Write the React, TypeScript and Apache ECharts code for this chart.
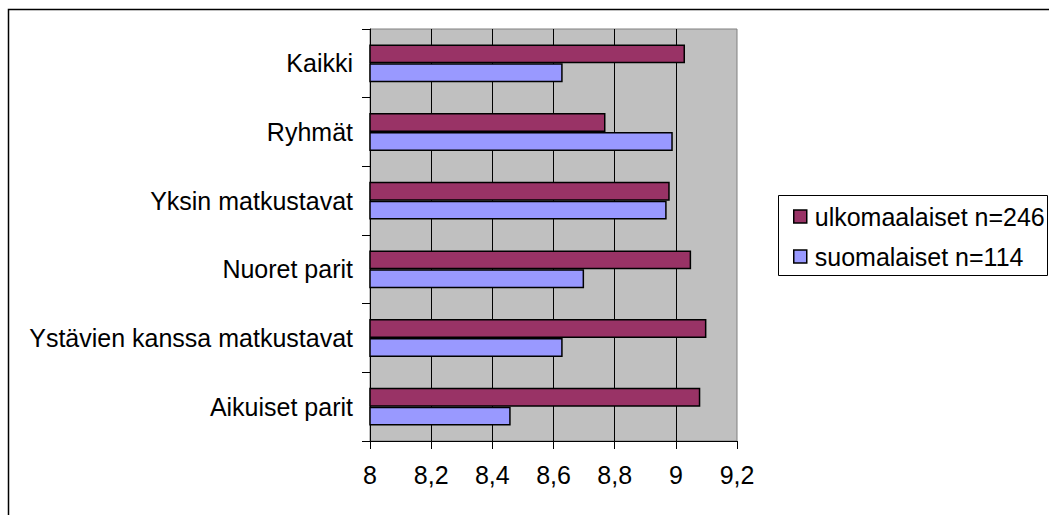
import React, { useEffect, useRef } from "react";
import * as echarts from "echarts";

const categories = [
  "Kaikki",
  "Ryhmät",
  "Yksin matkustavat",
  "Nuoret parit",
  "Ystävien kanssa matkustavat",
  "Aikuiset parit",
];
const seriesNames = ["ulkomaalaiset n=246", "suomalaiset n=114"];
const ulkomaalaiset = [9.03, 8.77, 8.98, 9.05, 9.1, 9.08];
const suomalaiset = [8.63, 8.99, 8.97, 8.7, 8.63, 8.46];
const xMin = 8;
const xMax = 9.2;
const xInterval = 0.2;

const FONT = "'Liberation Sans', Arial, sans-serif";

export default function App() {
  const ref = useRef<HTMLDivElement>(null);
  useEffect(() => {
    if (!ref.current) return;
    const chart = echarts.init(ref.current, null, { renderer: "svg" });
    chart.setOption({
      animation: false,
      backgroundColor: "#fff",
      textStyle: { fontFamily: FONT },
      grid: {
        left: 370,
        top: 29,
        width: 367,
        height: 412,
        show: true,
        backgroundColor: "#C0C0C0",
        borderColor: "#808080",
        borderWidth: 1,
      },
      xAxis: {
        type: "value",
        min: xMin,
        max: xMax,
        interval: xInterval,
        axisLine: { show: true, lineStyle: { color: "#000", width: 1 } },
        axisTick: { show: true, length: 8, lineStyle: { color: "#000" } },
        axisLabel: {
          color: "#000",
          fontSize: 25,
          fontFamily: FONT,
          margin: 21,
          formatter: (v: number) => String(Number(v.toFixed(1))).replace(".", ","),
        },
        splitLine: {
          show: true,
          showMinLine: false,
          showMaxLine: false,
          lineStyle: { color: "#000", width: 1 },
        },
      },
      yAxis: {
        type: "category",
        data: categories,
        inverse: true,
        axisLine: { show: true, lineStyle: { color: "#000", width: 1 } },
        axisTick: { show: true, length: 8, lineStyle: { color: "#000" } },
        axisLabel: { color: "#000", fontSize: 25, fontFamily: FONT, margin: 17 },
        splitLine: { show: false },
      },
      legend: {
        orient: "vertical",
        left: 788,
        top: 199,
        itemWidth: 13,
        itemHeight: 13,
        itemGap: 15,
        icon: "rect",
        textStyle: { color: "#000", fontSize: 25, fontFamily: FONT, padding: [0, 0, 0, 3] },
        data: [
          { name: seriesNames[0], itemStyle: { color: "#993366", borderColor: "#000", borderWidth: 1.5 } },
          { name: seriesNames[1], itemStyle: { color: "#9999FF", borderColor: "#000", borderWidth: 1.5 } },
        ],
      },
      graphic: [
        {
          type: "rect",
          shape: { x: 8.5, y: 9.5, width: 1200, height: 700 },
          style: { fill: "none", stroke: "#000", lineWidth: 1.5 },
          silent: true,
          z: -10,
        },
        {
          type: "rect",
          shape: { x: 778.5, y: 195.5, width: 269, height: 80 },
          style: { fill: "none", stroke: "#000", lineWidth: 1 },
          silent: true,
        },
      ],
      series: [
        {
          name: seriesNames[0],
          type: "bar",
          data: ulkomaalaiset,
          barWidth: "27.5%",
          barGap: "0%",
          itemStyle: { color: "#993366", borderColor: "#000", borderWidth: 1.5 },
        },
        {
          name: seriesNames[1],
          type: "bar",
          data: suomalaiset,
          barWidth: "27.5%",
          barGap: "0%",
          itemStyle: { color: "#9999FF", borderColor: "#000", borderWidth: 1.5 },
        },
      ],
    });
    return () => chart.dispose();
  }, []);
  return (
    <div
      ref={ref}
      style={{ position: "absolute", left: 0, top: 0, width: 1049, height: 515 }}
    />
  );
}
